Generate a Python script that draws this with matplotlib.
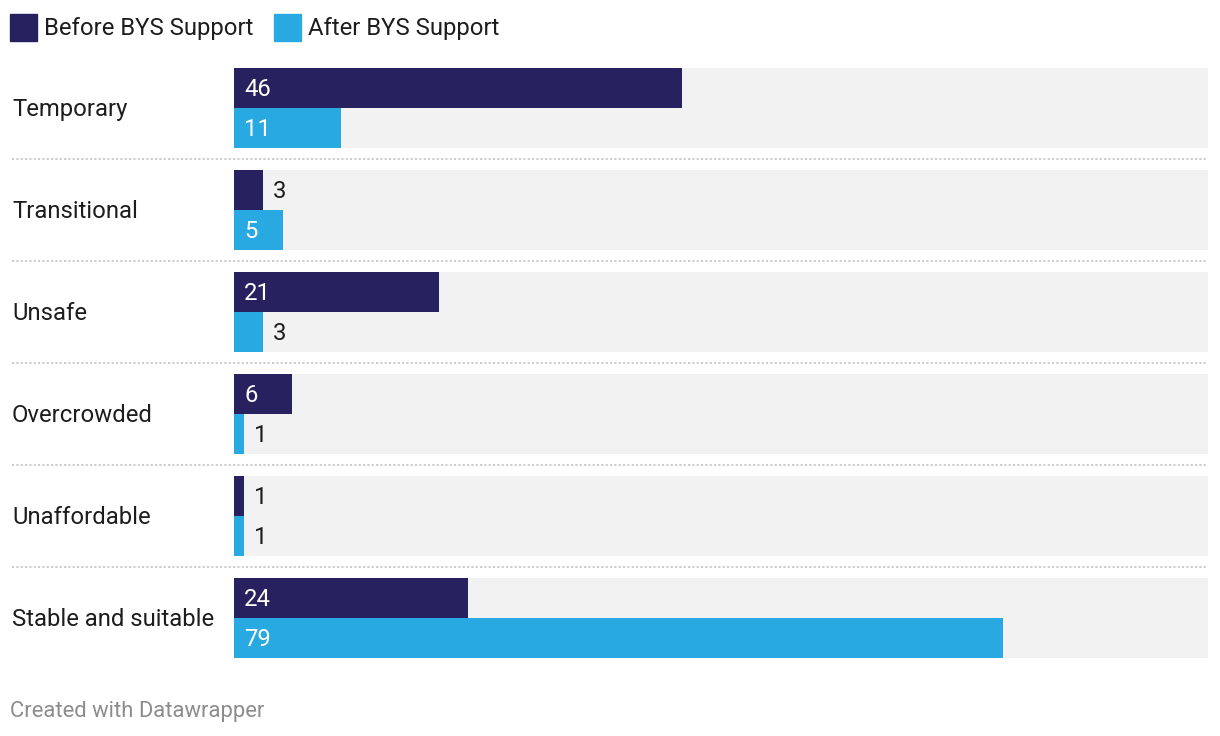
import matplotlib.pyplot as plt
from matplotlib.patches import Rectangle
import matplotlib.transforms as mtransforms

plt.rcParams['font.family'] = ['Roboto', 'DejaVu Sans']

categories = ['Temporary', 'Transitional', 'Unsafe', 'Overcrowded', 'Unaffordable', 'Stable and suitable']
before = [46, 3, 21, 6, 1, 24]
after = [11, 5, 3, 1, 1, 79]
series_names = ['Before BYS Support', 'After BYS Support']

dark = '#27215f'
light = '#29a9e1'
bg = '#f2f2f2'
text_col = '#1d1d1d'
fs = 17.2

W, H = 1220, 736
fig = plt.figure(figsize=(W / 100, H / 100), dpi=100)
# bar area in pixels: x 234-1208, y 68-658
ax = fig.add_axes([234 / W, 1 - 658 / H, 974 / W, 590 / H])
ax.set_xlim(0, 100)
half = 40 / 102
ax.set_ylim(len(categories) - 1 + half, -half)
ax.axis('off')

y = list(range(len(categories)))
ax.barh(y, [100] * len(y), height=2 * half, left=0, color=bg, zorder=0)
ax.barh([i - half / 2 for i in y], before, height=half, color=dark, zorder=2)
ax.barh([i + half / 2 for i in y], after, height=half, color=light, zorder=2)

px = 100 / 974  # one pixel in data units
for i in y:
    for v, off in ((before[i], -half / 2), (after[i], half / 2)):
        if v >= 5:
            ax.text(10 * px, i + off + 0.01, str(v), color='white', fontsize=fs,
                    va='center', ha='left', zorder=3)
        else:
            ax.text(v + 10 * px, i + off + 0.01, str(v), color=text_col, fontsize=fs,
                    va='center', ha='left', zorder=3)
    ax.text(-222 * px, i + 0.01, categories[i], color=text_col, fontsize=fs,
            va='center', ha='left', clip_on=False)

# dotted separators
trans = mtransforms.blended_transform_factory(ax.transAxes, ax.transData)
for i in y[:-1]:
    ax.plot([-222 / 974, 1], [i + 0.5, i + 0.5], transform=trans, clip_on=False,
            color='#c8c8c8', lw=1.3, linestyle=(0, (1.2, 1.2)))

# legend
for x0, name, col in ((10, series_names[0], dark), (274, series_names[1], light)):
    fig.patches.append(Rectangle((x0 / W, 1 - 41 / H), 27 / W, 27 / H,
                                 transform=fig.transFigure, color=col))
    fig.text((x0 + 34) / W, 1 - 28 / H, name, color=text_col, fontsize=fs,
             va='center', ha='left')

fig.text(10 / W, 1 - 712 / H, 'Created with Datawrapper', color='#8c8c8c',
         fontsize=15.8, va='center', ha='left')

fig.savefig('out.png', dpi=100, facecolor='white')
